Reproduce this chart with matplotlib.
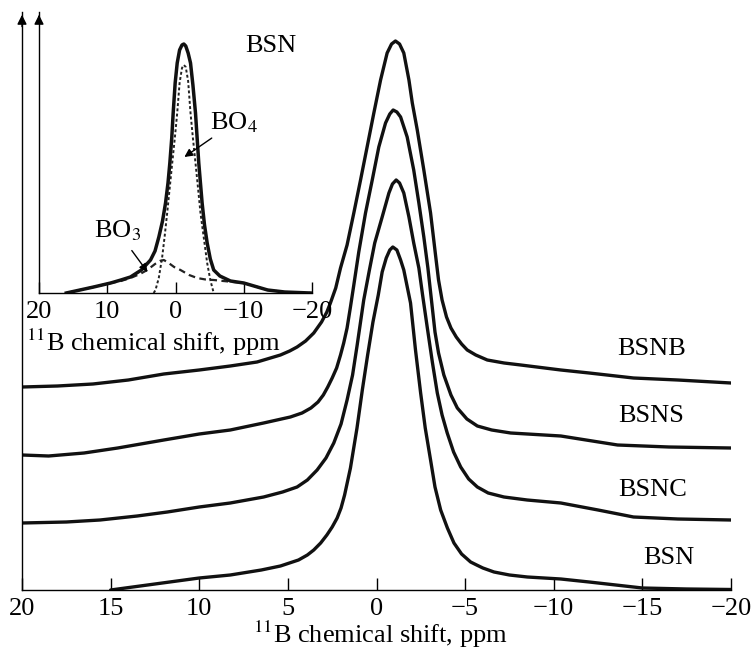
import matplotlib.pyplot as plt

plt.rcParams['font.family'] = ['Liberation Serif', 'DejaVu Serif']
plt.rcParams['mathtext.fontset'] = 'stix'

# main spectra: chemical shift (ppm) and intensity (arb. units, vertical offset included)
bsnb_x = [20, 18, 16, 14, 12, 10, 8.25, 6.74, 5.42, 4.9, 4.48, 4.0, 3.54, 3.1, 2.8, 2.6, 2.3, 2.03,
          1.66, 1.28, 0.9, 0.53, 0.15, -0.23, -0.6, -0.85, -1.07, -1.3, -1.54, -1.83, -2.02, -2.3,
          -2.67, -3.05, -3.33, -3.5, -3.7, -3.95, -4.2, -4.5, -4.8, -5.12, -5.6, -6.25, -7.2, -8.14,
          -10.4, -12, -14.5, -17, -20]
bsnb_y = [203, 204, 206, 210, 216, 220, 224, 228, 235, 239, 243, 249, 257, 268, 278, 287, 302, 322,
          345, 377, 410, 443, 477, 510, 537, 546, 549, 546, 537, 510, 487, 460,
          420, 377, 335, 310, 290, 273, 262, 253, 246, 240, 235, 230, 227, 225,
          220, 217, 212, 210, 207]

bsns_x = [20, 18.5, 16.5, 14.6, 12, 10, 8.25, 6.37, 4.86, 4.2, 3.7, 3.3, 3.0, 2.75, 2.5, 2.25, 2.03,
          1.85, 1.66, 1.47, 1.28, 1.0, 0.62, 0.24, -0.13, -0.51, -0.75, -0.94, -1.15, -1.36, -1.73,
          -2.1, -2.39, -2.67, -2.9, -3.1, -3.3, -3.5, -3.8, -4.2, -4.56, -5.1, -5.69, -6.5, -7.57,
          -10.4, -13.6, -16.5, -20]
bsns_y = [135, 134, 137, 142, 150, 156, 160, 167, 173, 177, 182, 188, 195, 203, 212, 222, 235,
          247, 262, 283, 305, 338, 377, 410, 443, 467, 476, 480, 478, 473, 453,
          420, 387, 353, 322, 290, 258, 237, 215, 195, 182, 171, 164, 160, 157,
          154, 145, 143, 142]

bsnc_x = [20, 17.5, 15.6, 13.5, 11.8, 10, 8.25, 6.37, 5.3, 4.48, 3.9, 3.35, 2.85, 2.41, 2.0, 1.66,
          1.35, 1.09, 0.72, 0.4, 0.1, -0.32, -0.7, -0.9, -1.11, -1.3, -1.54, -1.83, -2.1, -2.39, -2.6,
          -2.86, -3.15, -3.43, -3.7, -3.99, -4.35, -4.75, -5.2, -5.69, -6.3, -7.19, -8.5, -10.4, -12.5,
          -14.5, -17, -20]
bsnc_y = [67, 68, 70, 74, 78, 83, 87, 93, 98, 103, 110, 120, 132, 147, 166, 190,
          215, 245, 290, 320, 347, 373, 397, 406, 410, 407, 397, 373, 347, 322, 295,
          263, 228, 197, 175, 157, 138, 123, 111, 103, 97, 93, 90, 87, 80,
          73, 71, 70]

bsn_x = [15, 12.5, 10, 8.25, 6.5, 5.42, 4.4, 3.9, 3.54, 3.15, 2.8, 2.5, 2.22, 2.0, 1.8, 1.47, 1.1, 0.8,
         0.5, 0.2, -0.1, -0.32, -0.55, -0.75, -0.92, -1.15, -1.36, -1.54, -1.92, -2.2, -2.49, -2.75,
         -3.05, -3.3, -3.62, -4.0, -4.37, -4.8, -5.31, -5.65, -6.0, -6.63, -7.5, -8.51, -10.4, -12,
         -13.5, -15, -17.5, -20]
bsn_y = [0, 6, 12, 15, 20, 24, 30, 35, 40, 47, 55, 63, 72, 82, 95, 122, 162, 200,
         235, 268, 295, 318, 332, 340, 343, 340, 330, 320, 287, 240, 197, 162,
         130, 103, 80, 62, 47, 36, 28, 25, 22, 18, 15, 13, 11, 8,
         5, 2, 1, 0.5]

labels = ['BSNB', 'BSNS', 'BSNC', 'BSN']
label_x = [-15.5, -15.5, -15.6, -16.5]
label_y = [241, 174, 100, 32]

# inset: BSN spectrum and its BO3 / BO4 components
tot_x = [16, 14, 12, 9.5, 8, 6.6, 5, 3.66, 3, 2.44, 1.9, 1.46, 1.1, 0.83, 0.55, 0.34, 0.05, -0.25,
         -0.6, -0.95, -1.22, -1.5, -1.85, -2.2, -2.55, -2.93, -3.41, -3.9, -4.25, -4.64, -5.1, -5.6,
         -6.5, -8.05, -10, -12, -13.5, -16, -19.8]
tot_y = [0, 3, 6, 10, 13, 16, 23, 33, 42, 56, 72, 90, 110, 130, 155, 180, 210, 230,
         243, 248, 249, 247, 240, 230, 208, 180, 130, 90, 68, 50, 34, 23,
         17, 12, 10, 6, 3, 1, 0]

bo4_x = [3.2, 2.93, 2.45, 1.95, 1.6, 1.22, 0.85, 0.48, 0.1, -0.25, -0.6, -0.95, -1.22, -1.5, -1.85,
         -2.2, -2.55, -2.93, -3.3, -3.66, -4.15, -4.64, -5.1, -5.6]
bo4_y = [0, 3, 15, 36, 56, 80, 105, 130, 155, 180, 210, 225, 228, 226, 212,
         180, 155, 130, 105, 80, 55, 30, 13, 0]

bo3_x = [16, 12, 9.5, 8, 6.6, 5.2, 4.14, 3, 2.3, 1.71, 1.0, 0.2, -0.73, -2, -3.17, -4.4, -5.6, -7,
         -8.5, -10, -12, -13.5, -16, -19.8]
bo3_y = [0, 6, 10, 12, 15, 19, 23, 29, 32, 33, 30, 26, 23, 18, 15, 13.5, 13, 12,
         11, 10, 6, 3, 1, 0]

fig = plt.figure(figsize=(7.55, 6.54), dpi=100)

ax = fig.add_axes([22 / 755, 1 - 590 / 654, 709 / 755, 578 / 654])
for xs, ys in [(bsnb_x, bsnb_y), (bsns_x, bsns_y), (bsnc_x, bsnc_y), (bsn_x, bsn_y)]:
    ax.plot(xs, ys, color='#111111', lw=2.4, solid_joinstyle='round', solid_capstyle='round')
for name, lx, ly in zip(labels, label_x, label_y):
    ax.text(lx, ly, name, ha='center', va='center', fontsize=19)
ax.set_xlim(20, -20)
ax.set_ylim(0, 578)
ax.set_xticks([20, 15, 10, 5, 0, -5, -10, -15, -20])
ax.set_yticks([])
ax.tick_params(axis='x', direction='in', length=9, width=1, labelsize=19, pad=6)
for s in ['top', 'right']:
    ax.spines[s].set_visible(False)
for s in ['left', 'bottom']:
    ax.spines[s].set_linewidth(1)
ax.set_xlabel('$^{11}$B chemical shift, ppm', fontsize=19)
ax.xaxis.set_label_coords(0.505, -0.05)
ax.annotate('', xy=(0, 1.0), xytext=(0, 0.97), xycoords='axes fraction',
            arrowprops=dict(arrowstyle='-|>', color='k', lw=1, mutation_scale=14))

axi = fig.add_axes([39 / 755, 1 - 293 / 654, 273 / 755, 281 / 654], facecolor='none')
axi.plot(bo3_x, bo3_y, color='#222222', lw=1.6, ls=(0, (3, 2)))
axi.plot(bo4_x, bo4_y, color='#222222', lw=1.4, ls=(0, (1.5, 1.2)))
axi.plot(tot_x, tot_y, color='#111111', lw=2.5, solid_joinstyle='round')
axi.set_xlim(20, -20)
axi.set_ylim(0, 281)
axi.set_xticks([20, 10, 0, -10, -20])
axi.set_yticks([])
axi.tick_params(axis='x', direction='in', length=8, width=1, labelsize=19, pad=6)
for s in ['top', 'right']:
    axi.spines[s].set_visible(False)
for s in ['left', 'bottom']:
    axi.spines[s].set_linewidth(1)
axi.set_xlabel('$^{11}$B chemical shift, ppm', fontsize=19)
axi.xaxis.set_label_coords(0.418, -0.12)
axi.annotate('', xy=(0, 1.0), xytext=(0, 0.97), xycoords='axes fraction',
             arrowprops=dict(arrowstyle='-|>', color='k', lw=1, mutation_scale=14))
axi.text(-13.9, 247, 'BSN', ha='center', va='center', fontsize=19)
axi.annotate('BO$_4$', xy=(-1.3, 136), xytext=(-5.0, 170), ha='left', va='center', fontsize=19,
             arrowprops=dict(arrowstyle='-|>', color='k', lw=1, mutation_scale=12, shrinkA=0, shrinkB=0))
axi.annotate('BO$_3$', xy=(4.1, 21), xytext=(8.5, 62), ha='center', va='center', fontsize=19,
             arrowprops=dict(arrowstyle='-|>', color='k', lw=1, mutation_scale=12, shrinkA=4, shrinkB=0))

fig.savefig('out.png', dpi=100)
